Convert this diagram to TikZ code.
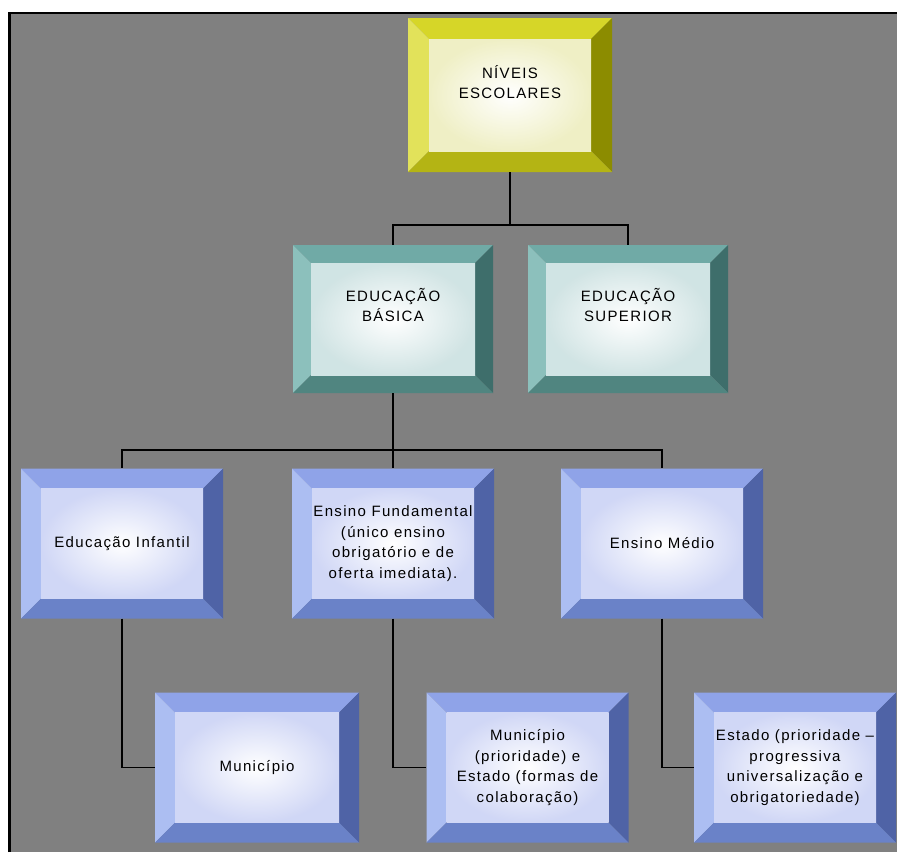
\documentclass[tikz,border=0pt]{standalone}
\usepackage{fontspec}
\setmainfont{Liberation Sans}[LetterSpace=9]
\usetikzlibrary{calc}
\definecolor{bggray}{RGB}{128,128,128}
\definecolor{ytop}{RGB}{214,214,40}
\definecolor{yleft}{RGB}{226,226,90}
\definecolor{yright}{RGB}{140,140,0}
\definecolor{ybot}{RGB}{180,180,20}
\definecolor{ytint}{RGB}{226,226,150}
\definecolor{ttop}{RGB}{112,170,166}
\definecolor{tleft}{RGB}{140,192,188}
\definecolor{tright}{RGB}{62,110,107}
\definecolor{tbot}{RGB}{80,133,128}
\definecolor{ttint}{RGB}{170,205,205}
\definecolor{btop}{RGB}{143,163,232}
\definecolor{bleft}{RGB}{172,190,242}
\definecolor{bright}{RGB}{79,99,166}
\definecolor{bbot}{RGB}{106,130,200}
\definecolor{btint}{RGB}{170,182,238}
\tikzset{
  bevelfill/.style n args={6}{path picture={
    \path (path picture bounding box.north west) coordinate (pA)
          (path picture bounding box.north east) coordinate (pB)
          (path picture bounding box.south east) coordinate (pC)
          (path picture bounding box.south west) coordinate (pD);
    \path ([shift={(#1pt,-#1pt)}]pA) coordinate (qA)
          ([shift={(-#1pt,-#1pt)}]pB) coordinate (qB)
          ([shift={(-#1pt,#1pt)}]pC) coordinate (qC)
          ([shift={(#1pt,#1pt)}]pD) coordinate (qD);
    \fill[#2] (pA) -- (pB) -- (qB) -- (qA) -- cycle;
    \fill[#3] (pA) -- (qA) -- (qD) -- (pD) -- cycle;
    \fill[#4] (pB) -- (pC) -- (qC) -- (qB) -- cycle;
    \fill[#5] (pD) -- (qD) -- (qC) -- (pC) -- cycle;
    \shade[inner color=white, outer color=#6!55!white] (qA) rectangle (qC);
  }},
  boxbase/.style={rectangle, inner sep=0pt, align=center,
    font=\fontsize{15}{20.5}\selectfont},
  ybox/.style={boxbase, minimum width=204pt, minimum height=154pt,
    bevelfill={21}{ytop}{yleft}{yright}{ybot}{ytint}},
  tbox/.style={boxbase, minimum width=200pt, minimum height=148pt,
    bevelfill={18}{ttop}{tleft}{tright}{tbot}{ttint}},
  bbox/.style={boxbase, minimum width=202pt, minimum height=150pt,
    bevelfill={20}{btop}{bleft}{bright}{bbot}{btint}},
  txt/.style={boxbase},
  conn/.style={draw=black, line width=1.6pt},
}
\begin{document}
\begin{tikzpicture}[x=1pt,y=-1pt]
\useasboundingbox (0,0) rectangle (897,852);
\fill[white] (0,0) rectangle (897,852);
\fill[bggray] (9.5,13) rectangle (897,852);
\draw[line width=2.6pt] (9.5,852) -- (9.5,13) -- (897,13);

% level 1
\node[ybox] (top) at (510,95) {};
\node[txt] (topt) at (510,82) {NÍVEIS\\ESCOLARES};
% level 2
\node[tbox] (basica) at (393,319) {};
\node[txt] (basicat) at (393,305) {EDUCAÇÃO\\BÁSICA};
\node[tbox] (superior) at (628,319) {};
\node[txt] (superiort) at (628,305) {EDUCAÇÃO\\SUPERIOR};
% level 3
\node[bbox] (infantil) at (122,543.5) {Educação Infantil};
\node[bbox] (fundamental) at (393,543.5) {Ensino Fundamental\\(único ensino\\obrigatório e de\\oferta imediata).};
\node[bbox] (medio) at (662,543.5) {Ensino Médio};
% level 4
\node[bbox, minimum width=204pt] (munic) at (257,767.5) {Município};
\node[bbox] (munest) at (527.5,767.5) {Município\\(prioridade) e\\Estado (formas de\\colaboração)};
\node[bbox] (estado) at (795,767.5) {Estado (prioridade –\\progressiva\\universalização e\\obrigatoriedade)};

% connectors
\draw[conn] (top.south) -- ++(0,53) -| (basica.north);
\draw[conn] (top.south) -- ++(0,53) -| (superior.north);
\draw[conn] (basica.south) -- ++(0,57) -| (infantil.north);
\draw[conn] (basica.south) -- ++(0,57) -| (medio.north);
\draw[conn] (basica.south) -- (fundamental.north);
\draw[conn] (infantil.south) |- (munic.west);
\draw[conn] (fundamental.south) |- (munest.west);
\draw[conn] (medio.south) |- (estado.west);
\end{tikzpicture}
\end{document}
